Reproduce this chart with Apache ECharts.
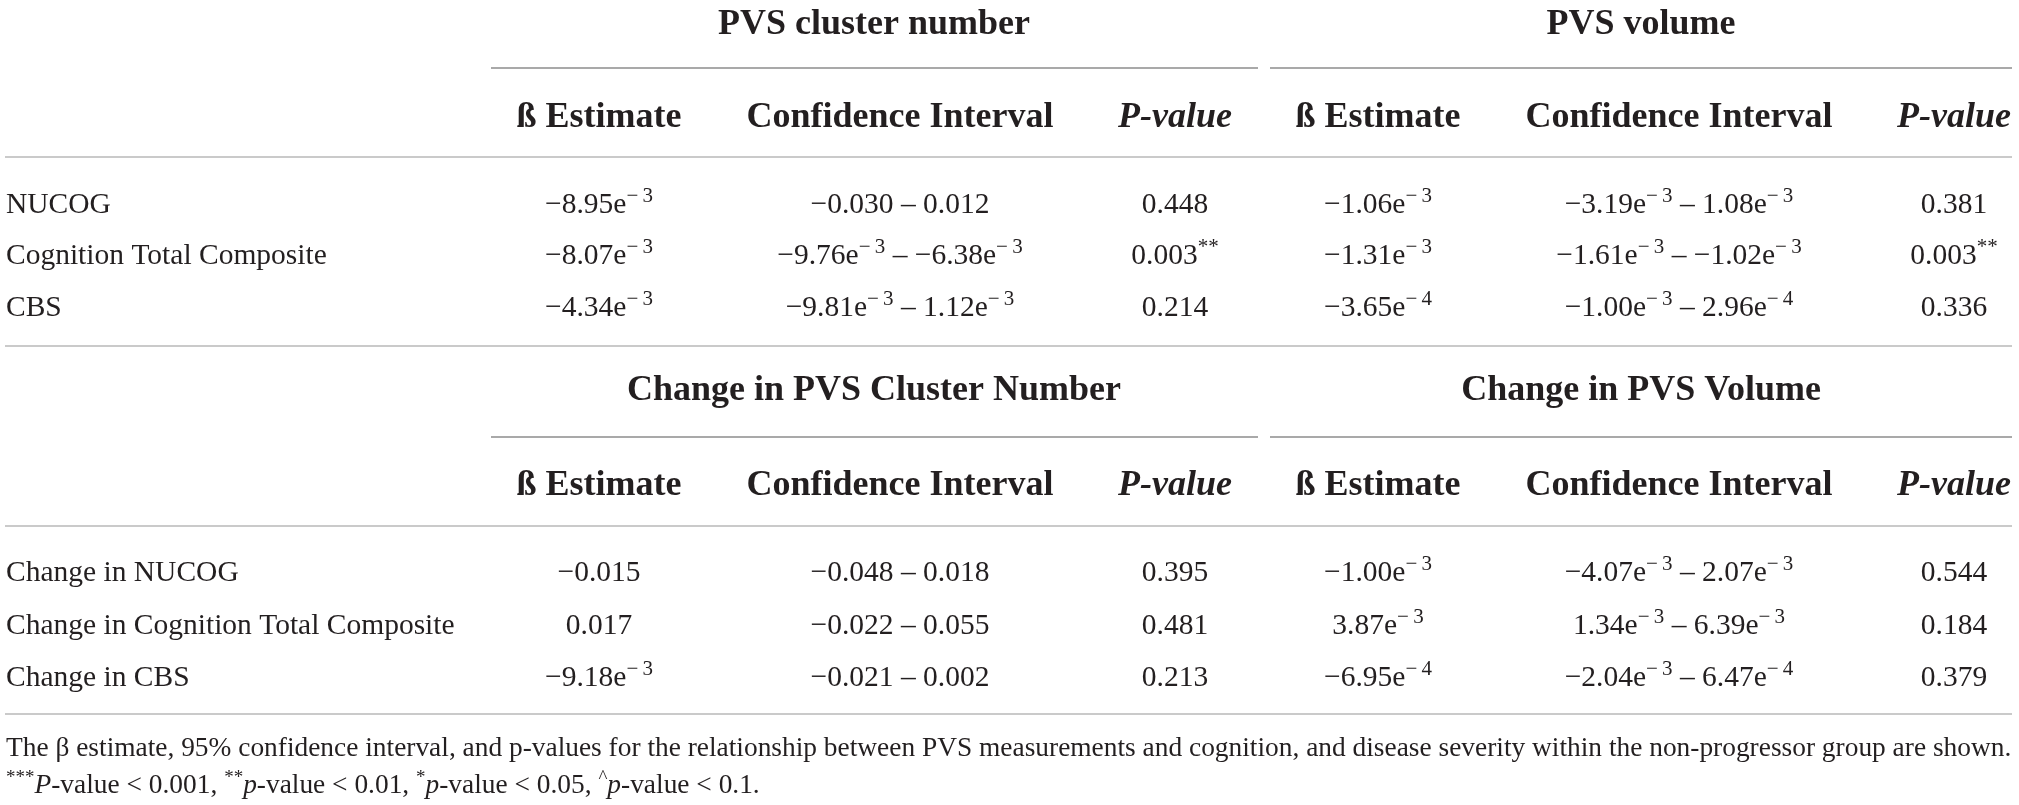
<!DOCTYPE html>
<html>
<head>
<meta charset="utf-8">
<script src="https://cdn.jsdelivr.net/npm/echarts@6/dist/echarts.min.js"></script>
<style>
  html, body { margin: 0; padding: 0; background: #fff; }
  #table { width: 2019px; height: 805px; }
</style>
</head>
<body>
<div id="table"></div>
<script>
// table contents
const groupsTop = ['PVS cluster number', 'PVS volume'];
const groupsBottom = ['Change in PVS Cluster Number', 'Change in PVS Volume'];
const colHeads = ['ß Estimate', 'Confidence Interval', 'P-value'];

const rowsTop = ['NUCOG', 'Cognition Total Composite', 'CBS'];
const clusterBetaTop = ['−8.95e−3', '−8.07e−3', '−4.34e−3'];
const clusterCiTop = ['−0.030 – 0.012', '−9.76e−3 – −6.38e−3', '−9.81e−3 – 1.12e−3'];
const clusterPTop = ['0.448', '0.003**', '0.214'];
const volumeBetaTop = ['−1.06e−3', '−1.31e−3', '−3.65e−4'];
const volumeCiTop = ['−3.19e−3 – 1.08e−3', '−1.61e−3 – −1.02e−3', '−1.00e−3 – 2.96e−4'];
const volumePTop = ['0.381', '0.003**', '0.336'];

const rowsBottom = ['Change in NUCOG', 'Change in Cognition Total Composite', 'Change in CBS'];
const clusterBetaBottom = ['−0.015', '0.017', '−9.18e−3'];
const clusterCiBottom = ['−0.048 – 0.018', '−0.022 – 0.055', '−0.021 – 0.002'];
const clusterPBottom = ['0.395', '0.481', '0.213'];
const volumeBetaBottom = ['−1.00e−3', '3.87e−3', '−6.95e−4'];
const volumeCiBottom = ['−4.07e−3 – 2.07e−3', '1.34e−3 – 6.39e−3', '−2.04e−3 – 6.47e−4'];
const volumePBottom = ['0.544', '0.184', '0.379'];

const note = 'The β estimate, 95% confidence interval, and p-values for the relationship between PVS measurements and cognition, and disease severity within the non-progressor group are shown.';
const sigNote = [['***', 'P', '-value < 0.001, '], ['**', 'p', '-value < 0.01, '], ['*', 'p', '-value < 0.05, '], ['^', 'p', '-value < 0.1.']];

// layout (pixel space of the axes)
const W = 2019, H = 805;
const colX = [6, 599, 900, 1175, 1378, 1679, 1954];
const groupX = [874, 1641];
const topY = { group: 25, head: 118, rows: [205, 256, 308] };
const botY = { group: 391, head: 486, rows: [573, 626, 678] };
const noteY = [749, 786];
const rules = [
  [491, 1258, 68, 'g'], [1270, 2012, 68, 'g'], [5, 2012, 157, 'f'], [5, 2012, 346, 'f'],
  [491, 1258, 437, 'g'], [1270, 2012, 437, 'g'], [5, 2012, 526, 'f'], [5, 2012, 714, 'f']
];

const FONT = '"Liberation Serif", "DejaVu Serif", serif';
const INK = '#231f20';
const RICH = {
  n: { fontFamily: FONT, fontSize: 29.5, color: INK },
  s: { fontFamily: FONT, fontSize: 21, color: INK, padding: [0, 0, 18, 0] },
  h: { fontFamily: FONT, fontSize: 36, fontWeight: 'bold', color: INK },
  hi: { fontFamily: FONT, fontSize: 36, fontWeight: 'bold', fontStyle: 'italic', color: INK },
  c: { fontFamily: FONT, fontSize: 27.4, color: INK },
  ci: { fontFamily: FONT, fontSize: 27.4, fontStyle: 'italic', color: INK },
  cs: { fontFamily: FONT, fontSize: 19, color: INK, padding: [0, 0, 15, 0] }
};

// "−8.95e−3" -> rich text with the exponent raised
function toRich(str) {
  return str.split(/(e−\d|\*+)/).filter(p => p !== '').map(p => {
    if (/^e−\d$/.test(p)) return '{n|e}{s|−\u2009' + p.slice(2) + '}';
    if (/^\*+$/.test(p)) return '{s|' + p + '}';
    return '{n|' + p + '}';
  }).join('');
}

const cells = [];
function addBlock(groups, rows, cols, ys) {
  groups.forEach((g, i) => cells.push({ x: groupX[i], y: ys.group, text: '{h|' + g + '}', align: 'center' }));
  [0, 1].forEach(gi => colHeads.forEach((h, k) => {
    const tag = h === 'P-value' ? 'hi' : 'h';
    cells.push({ x: colX[1 + gi * 3 + k], y: ys.head, text: '{' + tag + '|' + h + '}', align: 'center' });
  }));
  rows.forEach((r, i) => {
    cells.push({ x: colX[0], y: ys.rows[i], text: '{n|' + r + '}', align: 'left' });
    cols.forEach((col, k) => cells.push({ x: colX[k + 1], y: ys.rows[i], text: toRich(col[i]), align: 'center' }));
  });
}
addBlock(groupsTop, rowsTop,
  [clusterBetaTop, clusterCiTop, clusterPTop, volumeBetaTop, volumeCiTop, volumePTop], topY);
addBlock(groupsBottom, rowsBottom,
  [clusterBetaBottom, clusterCiBottom, clusterPBottom, volumeBetaBottom, volumeCiBottom, volumePBottom], botY);
cells.push({ x: colX[0], y: noteY[0], text: '{c|' + note + '}', align: 'left' });
cells.push({
  x: colX[0], y: noteY[1], align: 'left',
  text: sigNote.map(s => '{cs|' + s[0] + '}{ci|' + s[1] + '}{c|' + s[2] + '}').join('')
});

const chart = echarts.init(document.getElementById('table'));
chart.setOption({
  backgroundColor: '#fff',
  animation: false,
  grid: { left: 0, right: 0, top: 0, bottom: 0 },
  xAxis: { type: 'value', min: 0, max: W, show: false },
  yAxis: { type: 'value', min: 0, max: H, inverse: true, show: false },
  series: [
    {
      type: 'custom',
      silent: true,
      clip: false,
      data: rules.map(r => [r[0], r[2], r[1]]),
      renderItem: (params, api) => {
        const r = rules[params.dataIndex];
        const a = api.coord([r[0], r[2]]);
        const b = api.coord([r[1], r[2]]);
        return {
          type: 'line',
          shape: { x1: a[0], y1: a[1], x2: b[0], y2: b[1] },
          style: { stroke: r[3] === 'g' ? '#8c8c8c' : '#b8b8b8', lineWidth: 1.5 }
        };
      }
    },
    {
      type: 'custom',
      silent: true,
      clip: false,
      data: cells.map(c => [c.x, c.y]),
      renderItem: (params, api) => {
        const c = cells[params.dataIndex];
        const p = api.coord([c.x, c.y]);
        return {
          type: 'text',
          x: p[0],
          y: p[1],
          style: {
            text: c.text,
            rich: RICH,
            align: c.align,
            verticalAlign: 'middle',
            fill: INK,
            font: '29px ' + FONT
          }
        };
      }
    }
  ]
});
</script>
</body>
</html>
